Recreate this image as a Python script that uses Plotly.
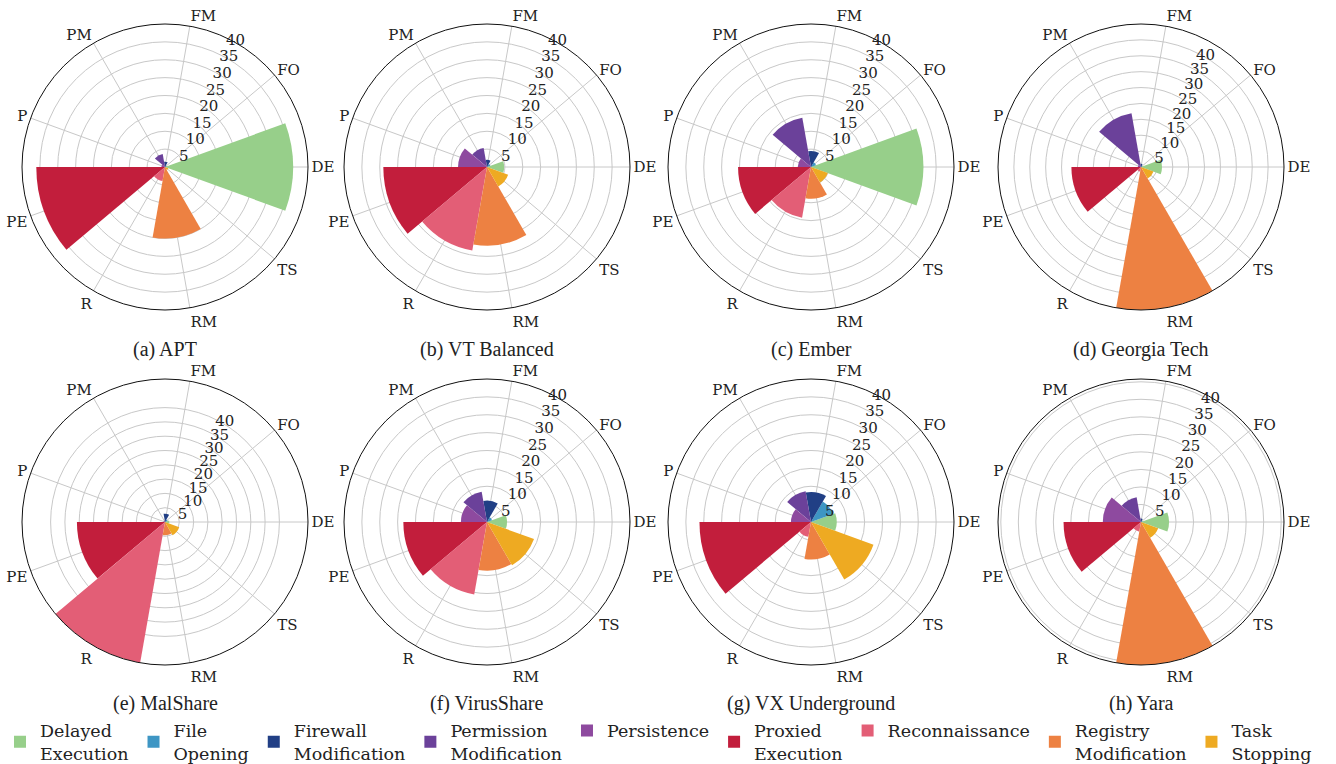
import plotly.graph_objects as go

# ---- data ----
categories = ["Delayed Execution", "File Opening", "Firewall Modification",
              "Permission Modification", "Persistence", "Proxied Execution",
              "Reconnaissance", "Registry Modification", "Task Stopping"]
legend_labels = ["Delayed<br>Execution", "File<br>Opening", "Firewall<br>Modification",
                 "Permission<br>Modification", "Persistence", "Proxied<br>Execution",
                 "Reconnaissance", "Registry<br>Modification", "Task<br>Stopping"]
abbrev = ["DE", "FO", "FM", "PM", "P", "PE", "R", "RM", "TS"]
colors = ["#97cf8a", "#3e96c4", "#213f85", "#6b419a", "#8e4a9f",
          "#c21e3c", "#e35e76", "#ed8142", "#eeaa22"]

datasets = ["(a) APT", "(b) VT Balanced", "(c) Ember", "(d) Georgia Tech",
            "(e) MalShare", "(f) VirusShare", "(g) VX Underground", "(h) Yara"]

#            DE    FO   FM   PM    P    PE    R     RM    TS
apt        = [35.8, 0.5, 1.5, 3.7, 1.0, 36.0, 4.0, 20.0, 1.0]
vt_bal     = [4.8, 1.0, 2.0, 5.4, 8.1, 29.0, 23.7, 22.0, 6.3]
ember      = [31.4, 1.5, 4.5, 14.0, 3.7, 20.4, 14.4, 8.9, 5.0]
georgia    = [6.6, 0.5, 1.0, 17.2, 1.0, 21.9, 1.5, 45.0, 4.2]
malshare   = [1.5, 1.0, 2.9, 0.5, 0.5, 30.8, 50.0, 4.6, 5.3]
virusshare = [5.6, 1.5, 6.0, 8.6, 7.3, 23.4, 20.6, 13.6, 14.0]
vx         = [7.2, 6.6, 8.4, 8.7, 5.6, 31.2, 4.2, 10.5, 18.6]
yara       = [8.0, 0.5, 1.0, 7.2, 10.9, 22.1, 2.8, 40.8, 5.2]
values = [apt, vt_bal, ember, georgia, malshare, virusshare, vx, yara]

radial_max = [40, 40, 40, 45, 50, 40, 40, 40.8]
radial_ticks = [5, 10, 15, 20, 25, 30, 35, 40]

# ---- layout geometry ----
W, H = 1336, 764
centers_x = [165, 487, 811, 1141]
centers_y = [167, 522]
R = 143
caption_y = [350, 703]
rad_angle = 68

fig = go.Figure()
layout = dict(
    width=W, height=H, margin=dict(l=0, r=0, t=0, b=0, autoexpand=False),
    paper_bgcolor="white", plot_bgcolor="white",
    showlegend=True,
    legend=dict(orientation="h", x=0.0, xanchor="left", y=1 - 742 / H, yanchor="middle",
                font=dict(family="DejaVu Serif", size=17.5, color="#222"),
                traceorder="normal", tracegroupgap=0,
                bgcolor="rgba(0,0,0,0)"),
    annotations=[],
)

for p, vals in enumerate(values):
    row, col = divmod(p, 4)
    cx, cy = centers_x[col], centers_y[row]
    key = "polar" if p == 0 else f"polar{p + 1}"
    for i, cat in enumerate(categories):
        fig.add_trace(go.Barpolar(
            r=[vals[i]], theta=[abbrev[i]], name=legend_labels[i],
            legendgroup=cat, showlegend=(p == 0),
            marker=dict(color=colors[i], line=dict(width=0)),
            subplot=key,
        ))
    layout[key] = dict(
        domain=dict(x=[(cx - R) / W, (cx + R) / W], y=[1 - (cy + R) / H, 1 - (cy - R) / H]),
        bgcolor="white",
        barmode="overlay", bargap=0,
        angularaxis=dict(type="category", categoryarray=abbrev, direction="counterclockwise",
                         rotation=0, showline=True, linecolor="#111", linewidth=1,
                         gridcolor="#c8c8c8", gridwidth=1, ticks="",
                         tickfont=dict(family="DejaVu Serif", size=15, color="#222")),
        radialaxis=dict(range=[0, radial_max[p]], tickmode="array", tickvals=radial_ticks,
                        angle=rad_angle, tickangle=rad_angle, showline=False, ticks="",
                        gridcolor="#c8c8c8", gridwidth=1,
                        tickfont=dict(family="DejaVu Serif", size=15, color="#222")),
    )
    layout["annotations"].append(dict(
        x=cx / W, y=1 - caption_y[row] / H, xref="paper", yref="paper",
        text=datasets[p], showarrow=False, xanchor="center", yanchor="middle",
        font=dict(family="Liberation Serif", size=20, color="#222")))

fig.update_layout(**layout)
fig.write_html("out.html", config={"displayModeBar": False},
               post_script="document.body.style.margin='0';document.body.style.overflow='hidden';")
